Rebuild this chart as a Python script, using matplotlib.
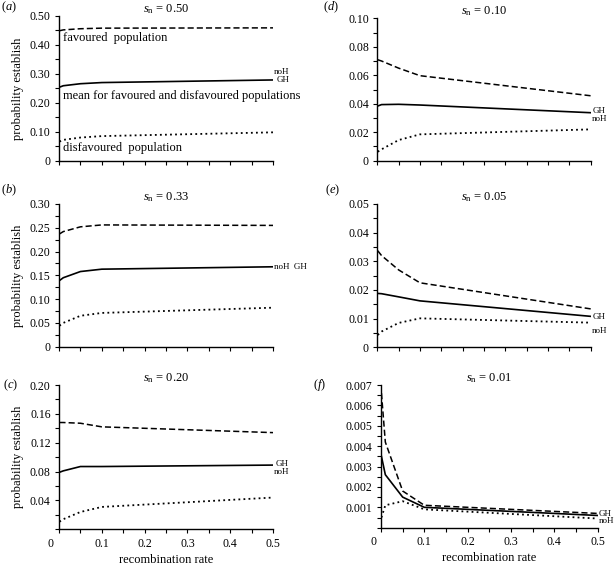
import matplotlib
matplotlib.use("Agg")
import matplotlib.pyplot as plt
from matplotlib.ticker import MultipleLocator
import matplotlib.transforms as mtransforms

plt.rcParams['font.family'] = ['Liberation Serif', 'DejaVu Serif']
plt.rcParams['mathtext.fontset'] = 'custom'
plt.rcParams['mathtext.rm'] = 'Liberation Serif'
plt.rcParams['mathtext.it'] = 'Liberation Serif:italic'

# recombination rates
r = [0.001, 0.01, 0.05, 0.1, 0.5]

# panel data: favoured (dashed), mean (solid), disfavoured (dotted)
fav_a = [0.449, 0.452, 0.456, 0.458, 0.459]
mean_a = [0.254, 0.259, 0.266, 0.270, 0.279]
dis_a = [0.066, 0.072, 0.080, 0.085, 0.098]

fav_b = [0.237, 0.242, 0.252, 0.256, 0.255]
mean_b = [0.139, 0.145, 0.158, 0.163, 0.168]
dis_b = [0.044, 0.050, 0.065, 0.071, 0.082]

fav_c = [0.148, 0.148, 0.147, 0.142, 0.134]
mean_c = [0.079, 0.081, 0.087, 0.087, 0.089]
dis_c = [0.0105, 0.014, 0.024, 0.031, 0.044]

fav_d = [0.0709, 0.070, 0.065, 0.0597, 0.0456]
mean_d = [0.0384, 0.0394, 0.0396, 0.0391, 0.0337]
dis_d = [0.0063, 0.008, 0.0145, 0.0185, 0.022]

fav_e = [0.0337, 0.032, 0.027, 0.0225, 0.0134]
mean_e = [0.0188, 0.0187, 0.0176, 0.0162, 0.0108]
dis_e = [0.0043, 0.0055, 0.0085, 0.0101, 0.0086]

fav_f = [0.0066, 0.0042, 0.0018, 0.0011, 0.0007]
mean_f = [0.0035, 0.0026, 0.0015, 0.0010, 0.0006]
dis_f = [0.0005, 0.0011, 0.0013, 0.0009, 0.00045]

sn_values = ["0.50", "0.33", "0.20", "0.10", "0.05", "0.01"]
letters = ["a", "b", "c", "d", "e", "f"]

fig = plt.figure(figsize=(6.16, 5.68), dpi=100)

W, H = 616.0, 568.0
def box(l, r_, b, t):
    return [l / W, 1 - b / H, (r_ - l) / W, (b - t) / H]

boxes = [box(59, 273, 160.7, 16), box(59, 273, 346.7, 204), box(59, 273, 529.3, 385),
         box(377.3, 590.7, 160.7, 18.3), box(377.3, 590.7, 347.3, 204), box(381, 597.7, 527.7, 385)]
ymax = [0.5, 0.3, 0.2, 0.1, 0.05, 0.007]
ymaj = [0.1, 0.05, 0.04, 0.02, 0.01, 0.001]
yfmt = ["%.2f", "%.2f", "%.2f", "%.2f", "%.2f", "%.3f"]
data = [(fav_a, mean_a, dis_a), (fav_b, mean_b, dis_b), (fav_c, mean_c, dis_c),
        (fav_d, mean_d, dis_d), (fav_e, mean_e, dis_e), (fav_f, mean_f, dis_f)]

# GH / noH labels: (text, y in data units, x in axes fraction, alignment)
end_labels = [
    [("noH", 0.306, 1.075, 'right'), ("GH", 0.280, 1.075, 'right')],
    [("noH  GH", 0.167, 1.005, 'left')],
    [("GH", 0.0905, 1.01, 'left'), ("noH", 0.0795, 1.005, 'left')],
    [("GH", 0.0349, 1.01, 'left'), ("noH", 0.0293, 1.005, 'left')],
    [("GH", 0.0107, 1.01, 'left'), ("noH", 0.0058, 1.005, 'left')],
    [("GH", 0.00068, 1.005, 'left'), ("noH", 0.00034, 1.005, 'left')],
]

axes = []
for i in range(6):
    ax = fig.add_axes(boxes[i])
    fav, mean, dis = data[i]
    ax.plot(r, fav, color='black', lw=1.1, ls=(0, (4, 2)))
    ax.plot(r, mean, color='black', lw=1.2, ls='-')
    ax.plot(r, dis, color='black', lw=1.3, ls=(0, (1, 1.8)))
    ax.set_xlim(0, 0.5)
    ax.set_ylim(0, ymax[i])
    for s in ['top', 'right']:
        ax.spines[s].set_visible(False)
    for s in ['left', 'bottom']:
        ax.spines[s].set_linewidth(1.0)
    ax.xaxis.set_major_locator(MultipleLocator(0.1))
    ax.xaxis.set_minor_locator(MultipleLocator(0.05))
    ax.yaxis.set_major_locator(MultipleLocator(ymaj[i]))
    ax.yaxis.set_minor_locator(MultipleLocator(ymaj[i] / 2))
    ax.tick_params(which='both', direction='out', length=3, width=0.8, labelsize=8.5, pad=3)
    bottom_row = i in (2, 5)
    yt = [k * ymaj[i] for k in range(int(round(ymax[i] / ymaj[i])) + 1)]
    ax.set_yticks(yt)
    ylabs = ["0" if k == 0 else yfmt[i] % v for k, v in enumerate(yt)]
    if bottom_row:
        ylabs[0] = ""
    ax.set_yticklabels(ylabs)
    if bottom_row:
        xt = [0, 0.1, 0.2, 0.3, 0.4, 0.5]
        ax.set_xticks(xt)
        ax.set_xticklabels(["0", "0.1", "0.2", "0.3", "0.4", "0.5"])
        lab0 = ax.get_xticklabels()[0]
        lab0.set_transform(lab0.get_transform() + mtransforms.ScaledTranslation(-8 / 100, 0, fig.dpi_scale_trans))
        ax.set_xlabel("recombination rate", fontsize=9, labelpad=3)
    else:
        ax.set_xticklabels([])
    if i < 3:
        ax.set_ylabel("probability establish", fontsize=9, labelpad=4)
    ax.set_title(r"$s_\mathrm{n}$ = " + sn_values[i], fontsize=9, pad=3)
    for txt, yv, xf, ha in end_labels[i]:
        ax.text(xf, yv / ymax[i], txt, transform=ax.transAxes, fontsize=6.5,
                ha=ha, va='center', clip_on=False)
    axes.append(ax)

# panel letters
letter_pos = [(1, 7), (1, 190), (3, 385), (323, 7), (325, 190), (313, 385)]
for (px, py), lt in zip(letter_pos, letters):
    fig.text(px / W, 1 - py / H, "($" + lt + "$)", fontsize=9, ha='left', va='center')

# annotations in panel (a)
ax = axes[0]
ax.text(0.01, 0.425, "favoured  population", fontsize=9, va='center')
ax.text(0.01, 0.225, "mean for favoured and disfavoured populations", fontsize=9, va='center')
ax.text(0.01, 0.043, "disfavoured  population", fontsize=9, va='center')

fig.savefig("out.png", dpi=100)
